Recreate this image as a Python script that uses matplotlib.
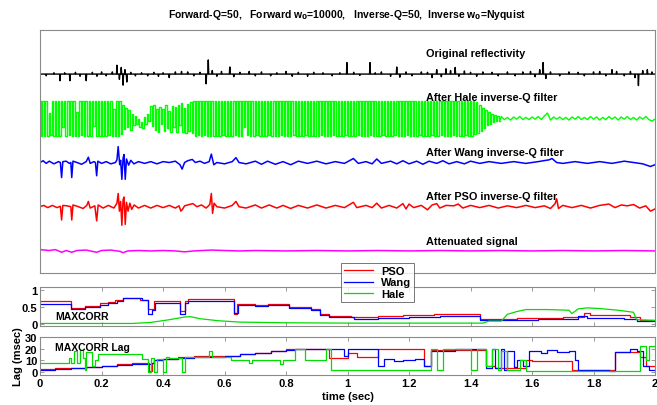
import numpy as np
import matplotlib
matplotlib.use("Agg")
import matplotlib.pyplot as plt

plt.rcParams["font.family"] = ["Liberation Sans", "DejaVu Sans"]
plt.rcParams["font.weight"] = "bold"

# ---- top panel traces (time in sec, amplitude in trace units) ----
refl_t = [0.020, 0.045, 0.065, 0.080, 0.097, 0.115, 0.130, 0.150, 0.170, 0.185,
          0.200, 0.215, 0.235, 0.250, 0.258, 0.264, 0.270, 0.276, 0.282, 0.295,
          0.310, 0.330, 0.350, 0.370, 0.385, 0.400, 0.420, 0.440, 0.460, 0.480,
          0.500, 0.520, 0.540, 0.547, 0.560, 0.575, 0.590, 0.617, 0.630, 0.650,
          0.680, 0.700, 0.720, 0.750, 0.770, 0.800, 0.820, 0.840, 0.870, 0.890,
          0.920, 0.950, 0.975, 0.998, 1.020, 1.040, 1.073, 1.090, 1.110, 1.140,
          1.160, 1.170, 1.190, 1.210, 1.240, 1.260, 1.275, 1.290, 1.305, 1.320,
          1.335, 1.350, 1.362, 1.380, 1.400, 1.420, 1.440, 1.470, 1.490, 1.520,
          1.545, 1.570, 1.595, 1.610, 1.625, 1.636, 1.645, 1.660, 1.690, 1.720,
          1.750, 1.770, 1.800, 1.820, 1.840, 1.860, 1.875, 1.900, 1.920, 1.935,
          1.946, 1.960, 1.975, 1.990]
refl_a = [-0.04, 0.03, -0.15, 0.03, -0.15, 0.04, -0.05, -0.15, 0.04, -0.05,
          0.05, -0.04, 0.05, 0.20, -0.12, 0.15, -0.25, 0.10, -0.18, 0.04,
          -0.04, 0.03, -0.04, 0.04, -0.05, 0.03, -0.08, 0.05, 0.06, 0.05,
          -0.04, 0.04, -0.22, 0.32, 0.08, -0.05, 0.06, 0.16, -0.06, 0.04,
          0.06, -0.04, 0.05, -0.04, 0.03, 0.06, -0.05, 0.04, -0.05, 0.04,
          0.03, -0.04, 0.03, 0.26, 0.04, -0.03, 0.26, 0.03, 0.05, -0.05,
          0.16, -0.07, 0.05, -0.04, 0.05, 0.04, -0.08, 0.10, -0.06, 0.12,
          0.08, 0.15, -0.05, 0.07, 0.04, -0.05, 0.05, 0.04, -0.04, 0.05,
          -0.04, 0.05, 0.06, -0.06, 0.10, 0.26, -0.10, 0.05, -0.04, 0.05,
          0.04, -0.04, 0.05, 0.06, -0.04, 0.10, 0.06, -0.04, 0.06, -0.08,
          -0.26, 0.08, 0.10, 0.05]

# Hale output, sampled every 5 ms up to 1.5 s (values in 1/100 trace units)
hale_head = [
    39, -39, 38, -40, 39, -39, 12, -38, 40, -39, 38, -39, 39, -40, 38, -20, 39, -39, 40, -38,
    39, -39, 38, -39, 15, -40, 39, -38, 39, -39, 40, -39, 38, -39, 39, -18, 40, -39, 38, -39,
    39, -40, 38, -39, 39, -38, 40, -39, 22, -39, 38, -40, 39, -36, 30, -25,
    24, -20, 18, -26, 10, -15, 5, -12, -2, -20, -8, -22, 4, -14, 10, -6, 28, -18, 30, -26,
    22, -30, 26, -14, 20, -28, 30, -22, 16, -30, 28, -20, 26, -32, 30, -16, 34, -30, 24, -34,
    32, -28, 36, -34, 38,
    -39, 40, -38, 39, -40, 39, -38, 40, -39, 38, -39, 40, -39, 38, -40, 39, -39, 40, -38, 39,
    -39, 38, -40, 39, -39, 40, -38, 39, -39, 38, -40, 39, -20, 39, -38, 40, -39, 38, -39, 40,
    -38, 39, -40, 39, -39, 38, -39, 40, -38, 39, -39, 40, -39, 38, -40, 39, -38, 39, -39, 40,
    -39, 38, -39, 40, -38, 39, -40, 39, -39, 38, -39, 40, -38, 39, -39, 40, -39, 38, -40, 39,
    -39, 40, -38, 39, -39, 38, -40, 39, -39, 40, -38, 39, -39, 40, -39, 38, -39, 40, -38, 39,
    -40, 39, -39, 38, -39, 40, -38, 39, -40, 39, -39, 38, -39, 40, -38, 39, -39, 40, -39, 38,
    -39, 40, -38, 39, -39, 40, -39, 38, -40, 39, -38, 39, -39, 40, -39, 38, -39, 40, -38, 39,
    -39, 38, -40, 39, -39, 40, -38, 39, -39, 38, -40, 39, -39, 40, -38, 39, -39, 38, -39, 40,
    -38, 39, -39, 40, -39, 38, -40, 39, -38, 39, -39, 40, -39, 38, -39, 40, -38, 39, -39, 40,
    -39, 38, -36, 37,
    -34, 30, -28, 24, -22, 18, -16, 14, -12, 10, -9, 8, -7, 6, -5]
# ... then every 10 ms from 1.5 s to 2.0 s
hale_tail = [4, -3, 2, -4, 3, -2, 4, -3, 2, -3,
             3, -2, 4, -3, 5, 12, -4, 3, -2, 3,
             -3, 2, -4, 3, -2, 4, -3, 2, -3, 4,
             -2, 3, -4, 2, -3, 4, -2, 3, -4, 3,
             -2, 4, -3, 2, -4, 3, -2, 4, -3, -6,
             -2]

wang_tv = [(0.000, 0.00), (0.010, 0.04), (0.020, -0.02), (0.030, 0.03), (0.045, -0.03),
           (0.060, 0.02), (0.066, 0.00), (0.070, -0.34), (0.074, 0.02), (0.085, 0.03),
           (0.095, -0.02), (0.100, 0.00), (0.103, -0.34), (0.107, 0.03), (0.120, 0.00),
           (0.135, -0.04), (0.150, 0.02), (0.157, 0.12), (0.163, -0.02), (0.175, 0.02),
           (0.180, 0.00), (0.184, -0.30), (0.188, 0.03), (0.200, -0.02), (0.215, 0.02),
           (0.230, -0.03), (0.245, 0.00), (0.250, 0.06), (0.254, 0.36), (0.259, -0.05),
           (0.262, 0.05), (0.266, -0.38), (0.270, 0.10), (0.273, 0.18), (0.277, -0.38),
           (0.281, 0.08), (0.288, -0.06), (0.295, 0.05), (0.305, -0.03), (0.320, 0.02),
           (0.340, -0.02), (0.360, 0.02), (0.380, -0.03), (0.400, 0.02), (0.420, 0.00),
           (0.440, 0.03), (0.455, -0.05), (0.462, -0.15), (0.470, 0.00), (0.480, 0.04),
           (0.495, 0.07), (0.505, 0.00), (0.520, 0.03), (0.535, -0.02), (0.550, 0.02),
           (0.557, 0.19), (0.565, -0.05), (0.575, 0.00), (0.600, -0.03), (0.625, 0.02),
           (0.637, 0.11), (0.647, 0.00), (0.670, -0.03), (0.700, 0.03), (0.720, -0.04),
           (0.740, 0.03), (0.765, -0.04), (0.790, 0.02), (0.815, -0.05), (0.840, 0.03),
           (0.870, -0.02), (0.900, 0.03), (0.930, -0.03), (0.960, 0.02), (0.990, -0.02),
           (1.019, 0.09), (1.035, -0.02), (1.060, 0.02), (1.080, -0.03), (1.095, 0.08),
           (1.110, -0.02), (1.140, 0.03), (1.160, -0.03), (1.180, 0.04), (1.200, -0.03),
           (1.225, 0.03), (1.245, -0.04), (1.265, 0.03), (1.290, -0.02), (1.310, 0.04),
           (1.330, -0.03), (1.355, 0.02), (1.380, -0.03), (1.400, 0.03), (1.430, -0.02),
           (1.460, 0.02), (1.500, -0.02), (1.540, 0.02), (1.580, -0.02), (1.620, 0.02),
           (1.655, 0.06), (1.665, 0.09), (1.680, 0.00), (1.700, -0.02), (1.740, 0.02),
           (1.780, -0.02), (1.820, 0.02), (1.860, -0.02), (1.900, 0.03), (1.930, 0.00),
           (1.960, -0.03), (1.985, -0.09), (2.000, -0.05)]

pso_tv = [(0.000, 0.00), (0.012, 0.03), (0.025, -0.02), (0.040, 0.03), (0.055, -0.02),
          (0.066, 0.01), (0.070, -0.30), (0.074, 0.03), (0.088, 0.02), (0.100, 0.00),
          (0.103, -0.30), (0.107, 0.04), (0.125, 0.00), (0.140, -0.04), (0.152, 0.03),
          (0.157, 0.12), (0.163, -0.03), (0.178, 0.02), (0.184, -0.32), (0.189, 0.04),
          (0.205, -0.03), (0.222, 0.03), (0.240, -0.03), (0.250, 0.08), (0.254, 0.30),
          (0.258, -0.10), (0.262, 0.12), (0.266, -0.42), (0.270, 0.16), (0.273, 0.22),
          (0.277, -0.40), (0.281, 0.10), (0.286, -0.10), (0.292, 0.08), (0.298, -0.06),
          (0.306, 0.04), (0.320, -0.03), (0.340, 0.03), (0.360, -0.03), (0.380, 0.03),
          (0.400, -0.02), (0.420, 0.03), (0.440, -0.03), (0.452, 0.02), (0.458, -0.10),
          (0.463, -0.06), (0.470, 0.02), (0.485, 0.05), (0.497, 0.07), (0.510, 0.00),
          (0.525, 0.04), (0.540, -0.03), (0.552, 0.05), (0.557, 0.30), (0.561, -0.15),
          (0.566, 0.08), (0.575, 0.00), (0.600, -0.03), (0.625, 0.03), (0.637, 0.12),
          (0.647, 0.00), (0.670, -0.03), (0.700, 0.04), (0.720, -0.03), (0.745, 0.04),
          (0.770, -0.03), (0.790, 0.03), (0.815, -0.04), (0.840, 0.03), (0.870, -0.03),
          (0.900, 0.04), (0.930, -0.03), (0.960, 0.03), (0.990, -0.02), (1.019, 0.10),
          (1.030, -0.02), (1.060, 0.03), (1.080, -0.02), (1.095, 0.08), (1.110, -0.03),
          (1.135, 0.03), (1.160, -0.03), (1.180, 0.07), (1.190, -0.05), (1.200, 0.06),
          (1.215, -0.02), (1.240, 0.03), (1.260, -0.07), (1.275, 0.04), (1.290, 0.07),
          (1.300, -0.03), (1.320, 0.03), (1.345, 0.02), (1.360, 0.06), (1.375, -0.03),
          (1.400, 0.03), (1.430, -0.02), (1.460, 0.03), (1.490, -0.03), (1.520, 0.02),
          (1.550, -0.02), (1.580, 0.03), (1.610, -0.02), (1.640, 0.02), (1.660, -0.04),
          (1.675, 0.07), (1.680, 0.18), (1.686, -0.04), (1.700, 0.03), (1.730, -0.02),
          (1.760, 0.03), (1.790, -0.03), (1.820, 0.03), (1.850, 0.06), (1.870, -0.02),
          (1.890, 0.04), (1.910, 0.02), (1.930, 0.05), (1.950, -0.03), (1.970, 0.02),
          (1.985, -0.10), (2.000, -0.05)]

atten_tv = [(0.000, 0.03), (0.030, 0.01), (0.050, 0.03), (0.070, -0.03), (0.085, 0.01),
            (0.103, -0.03), (0.120, 0.01), (0.150, 0.02), (0.184, -0.03), (0.200, 0.01),
            (0.230, 0.02), (0.260, -0.01), (0.270, -0.04), (0.285, 0.00), (0.320, 0.01),
            (0.360, 0.00), (0.400, 0.01), (0.440, 0.00), (0.470, -0.02), (0.500, 0.00),
            (0.557, 0.02), (0.600, 0.01), (0.650, 0.00), (0.700, 0.01), (0.800, 0.00),
            (0.900, 0.01), (1.000, 0.00), (1.100, 0.01), (1.200, 0.00), (1.300, 0.01),
            (1.400, 0.00), (1.500, 0.01), (1.600, 0.00), (1.700, 0.01), (1.800, 0.00),
            (1.900, 0.01), (2.000, 0.00)]

# ---- MAXCORR (step changes) ----
pso_c_t = [0.00, 0.10, 0.146, 0.195, 0.22, 0.245, 0.27, 0.325, 0.35, 0.37,
           0.455, 0.47, 0.48, 0.63, 0.64, 0.70, 0.74, 0.81, 0.88, 0.91,
           0.94, 1.01, 1.10, 1.18, 1.28, 1.43, 1.55, 1.70, 1.77, 1.79,
           1.92, 1.95, 2.00]
pso_c = [0.67, 0.47, 0.53, 0.60, 0.64, 0.69, 0.76, 0.71, 0.45, 0.66,
         0.38, 0.66, 0.72, 0.30, 0.59, 0.55, 0.58, 0.50, 0.45, 0.30,
         0.24, 0.20, 0.23, 0.26, 0.28, 0.13, 0.17, 0.20, 0.31, 0.25,
         0.20, 0.12, 0.12]
wang_c_t = [0.00, 0.10, 0.146, 0.195, 0.22, 0.25, 0.27, 0.33, 0.35, 0.365,
            0.375, 0.455, 0.47, 0.48, 0.63, 0.645, 0.70, 0.74, 0.81, 0.88,
            0.91, 0.94, 1.02, 1.10, 1.20, 1.30, 1.43, 1.50, 1.62, 1.75,
            1.78, 1.80, 1.90, 1.94, 2.00]
wang_c = [0.58, 0.45, 0.50, 0.56, 0.62, 0.67, 0.75, 0.70, 0.30, 0.40,
          0.62, 0.30, 0.62, 0.66, 0.32, 0.55, 0.52, 0.55, 0.46, 0.42,
          0.26, 0.20, 0.15, 0.17, 0.20, 0.24, 0.12, 0.10, 0.14, 0.22,
          0.16, 0.18, 0.14, 0.08, 0.08]
hale_c_t = [0.00, 0.30, 0.36, 0.42, 0.47, 0.49, 0.52, 0.58, 0.65, 0.80,
            1.00, 1.20, 1.44, 1.46, 1.50, 1.52, 1.55, 1.58, 1.65, 1.72,
            1.73, 1.75, 1.78, 1.82, 1.88, 1.93, 1.94, 2.00]
hale_c = [0.01, 0.01, 0.04, 0.12, 0.20, 0.21, 0.15, 0.09, 0.05, 0.03,
          0.02, 0.02, 0.02, 0.08, 0.08, 0.28, 0.36, 0.42, 0.42, 0.40,
          0.30, 0.44, 0.47, 0.45, 0.40, 0.34, 0.12, 0.10]

# ---- MAXCORR lag in msec (step changes) ----
pso_lag_t = [0.00, 0.05, 0.10, 0.15, 0.20, 0.25, 0.30, 0.355, 0.365, 0.37,
             0.40, 0.45, 0.50, 0.60, 0.65, 0.70, 0.75, 0.80, 0.83, 0.94,
             1.00, 1.03, 1.10, 1.25, 1.27, 1.45, 1.48, 1.58, 1.60, 1.73,
             1.87, 1.95, 1.97, 2.00]
pso_lag = [2.5, 3, 3.5, 4.5, 5.5, 6.5, 7.5, 1, 8, 10,
           11.5, 12.5, 13.5, 14, 15, 16.5, 18, 19.5, 20, 12,
           16, 13, 20, 5, 19, 5, 3, 10, 9, 2,
           17, 13, 5, 5]
wang_lag_t = [0.00, 0.05, 0.10, 0.15, 0.20, 0.25, 0.30, 0.36, 0.37, 0.40,
              0.45, 0.50, 0.60, 0.65, 0.70, 0.75, 0.80, 0.83, 0.99, 1.00,
              1.02, 1.10, 1.12, 1.15, 1.18, 1.22, 1.25, 1.27, 1.35, 1.45,
              1.47, 1.48, 1.50, 1.51, 1.52, 1.54, 1.55, 1.57, 1.59, 1.63,
              1.65, 1.68, 1.72, 1.74, 1.75, 1.85, 1.87, 1.92, 1.94, 1.96,
              1.98, 2.00]
wang_lag = [2, 2.5, 3, 4, 5, 6, 7, 8, 10, 11,
            12, 13, 14, 15, 16, 18, 19, 20, 14, 20,
            20, 5, 11, 9, 10, 11, 5, 18, 20, 3,
            20, 3, 20, 2, 18, 4, 10, 5, 18, 16,
            19, 17, 18, 10, 2, 1, 17, 20, 18, 5,
            2, 2]
hale_lag_t = [0.00, 0.095, 0.10, 0.11, 0.12, 0.13, 0.14, 0.145, 0.15, 0.17,
              0.18, 0.19, 0.33, 0.35, 0.36, 0.37, 0.38, 0.40, 0.41, 0.42,
              0.46, 0.47, 0.55, 0.56, 0.62, 0.68, 0.69, 0.78, 0.79, 0.83,
              0.86, 0.93, 0.945, 1.27, 1.29, 1.31, 1.40, 1.42, 1.45, 1.47,
              1.49, 1.50, 1.52, 1.56, 1.58, 1.95, 1.97, 1.98, 2.00]
hale_lag = [8, 12, 8, 18, 8, 19, 12, 2, 17, 5,
            10, 15, 11, 0, 12, 0, 11, 0, 13, 12,
            0, 13, 18, 13, 10, 8, 10, 7, 10, 20,
            10, 20, 2, 20, 2, 20, 2, 20, 5, 20,
            2, 18, 2, 10, 1, 22, 10, 22, 22]

time_ticks = [0, 0.2, 0.4, 0.6, 0.8, 1, 1.2, 1.4, 1.6, 1.8, 2]
time_ticklabels = ["0", "0.2", "0.4", "0.6", "0.8", "1", "1.2", "1.4", "1.6", "1.8", "2"]

SPINE = "#8a8a8a"


def spike_trace(ts, amps, half=0.0015):
    """Reflectivity spikes on a zero line."""
    x, y = [0.0], [0.0]
    for t, a in zip(ts, amps):
        x += [t - half, t, t + half]
        y += [0.0, a, 0.0]
    x.append(2.0); y.append(0.0)
    return np.array(x), np.array(y)


def style(ax):
    for s in ax.spines.values():
        s.set_color(SPINE); s.set_linewidth(0.8)
    ax.tick_params(direction="in", length=3, width=0.6, color=SPINE,
                   labelsize=8, pad=2, top=True, right=True)
    for lab in ax.get_xticklabels() + ax.get_yticklabels():
        lab.set_fontweight("bold")


fig = plt.figure(figsize=(6.57, 4.06), dpi=100)
ax_tr = fig.add_axes([0.061, 0.325, 0.936, 0.599])
ax_mc = fig.add_axes([0.061, 0.195, 0.936, 0.096])
ax_lg = fig.add_axes([0.061, 0.074, 0.936, 0.094])

# top: stacked traces, offsets 5 (top) ... 1 (bottom)
rx, ry = spike_trace(refl_t, refl_a)
ax_tr.plot(rx, ry + 5, color="black", lw=1.0)

head_v = np.array(hale_head) / 100.0
head_x = np.arange(len(hale_head)) * 0.005
tail_v = np.array(hale_tail) / 100.0
tail_x = 1.5 + np.arange(len(hale_tail)) * 0.01
ax_tr.plot(head_x, head_v + 4, color="#00ff00", lw=1.0, drawstyle="steps-mid")
ax_tr.plot(np.r_[head_x[-1], tail_x], np.r_[head_v[-1], tail_v] + 4,
           color="#00ff00", lw=1.0)

wx, wv = zip(*wang_tv)
ax_tr.plot(wx, np.array(wv) + 3, color="#0000ff", lw=1.1)
px, pv = zip(*pso_tv)
ax_tr.plot(px, np.array(pv) + 2, color="#ff0000", lw=1.1)
ax_x, ax_v = zip(*atten_tv)
ax_tr.plot(ax_x, np.array(ax_v) + 1, color="#ff00ff", lw=1.1)

labels = [("Original reflectivity", 5.47), ("After Hale inverse-Q filter", 4.48),
          ("After Wang inverse-Q filter", 3.24), ("After PSO inverse-Q filter", 2.24),
          ("Attenuated signal", 1.23)]
for txt, yy in labels:
    ax_tr.text(1.256, yy, txt, fontsize=7.8, fontweight="bold", va="center", ha="left")
ax_tr.set_xlim(0, 2)
ax_tr.set_ylim(0.5, 6.0)
ax_tr.set_xticks([]); ax_tr.set_yticks([])
for s in ax_tr.spines.values():
    s.set_color(SPINE); s.set_linewidth(0.8)
ax_tr.set_title(r"Forward-Q=50,   Forward w$_0$=10000,   Inverse-Q=50,  Inverse w$_0$=Nyquist",
                fontsize=7.5, fontweight="bold", pad=9)

# MAXCORR
l1, = ax_mc.plot(pso_c_t, pso_c, color="#ff0000", lw=0.9, drawstyle="steps-post")
l2, = ax_mc.plot(wang_c_t, wang_c, color="#0000ff", lw=0.9, drawstyle="steps-post")
l3, = ax_mc.plot(hale_c_t, hale_c, color="#00dd00", lw=0.9)
ax_mc.set_xlim(0, 2); ax_mc.set_ylim(-0.06, 1.09)
ax_mc.set_yticks([0, 0.5, 1]); ax_mc.set_yticklabels(["0", "0.5", "1"])
ax_mc.set_xticks(time_ticks); ax_mc.set_xticklabels([])
ax_mc.text(0.05, 0.22, "MAXCORR", fontsize=7.5, fontweight="bold", va="center")
style(ax_mc)

# MAXCORR lag
ax_lg.plot(pso_lag_t, pso_lag, color="#ff0000", lw=0.9, drawstyle="steps-post")
ax_lg.plot(wang_lag_t, wang_lag, color="#0000ff", lw=0.9, drawstyle="steps-post")
ax_lg.plot(hale_lag_t, hale_lag, color="#00dd00", lw=0.9, drawstyle="steps-post")
ax_lg.set_xlim(0, 2); ax_lg.set_ylim(-2.5, 30)
ax_lg.set_yticks([0, 10, 20, 30])
ax_lg.set_xticks(time_ticks); ax_lg.set_xticklabels(time_ticklabels)
ax_lg.text(0.05, 21, "MAXCORR Lag", fontsize=7.5, fontweight="bold", va="center")
ax_lg.set_xlabel("time (sec)", fontsize=8, fontweight="bold", labelpad=2)
ax_lg.set_ylabel("Lag (msec)", fontsize=8, fontweight="bold", labelpad=1)
style(ax_lg)

leg = fig.legend([l1, l2, l3], ["PSO", "Wang", "Hale"], loc="upper left",
                 bbox_to_anchor=(341 / 657, 1 - 264 / 406), fontsize=8,
                 frameon=True, fancybox=False, handlelength=2.6, borderpad=0.3,
                 labelspacing=0.1, handletextpad=0.7, borderaxespad=0)
leg.get_frame().set_edgecolor("#555555")
leg.get_frame().set_linewidth(0.7)
for t in leg.get_texts():
    t.set_fontweight("bold")

fig.savefig("out.png", dpi=100)
